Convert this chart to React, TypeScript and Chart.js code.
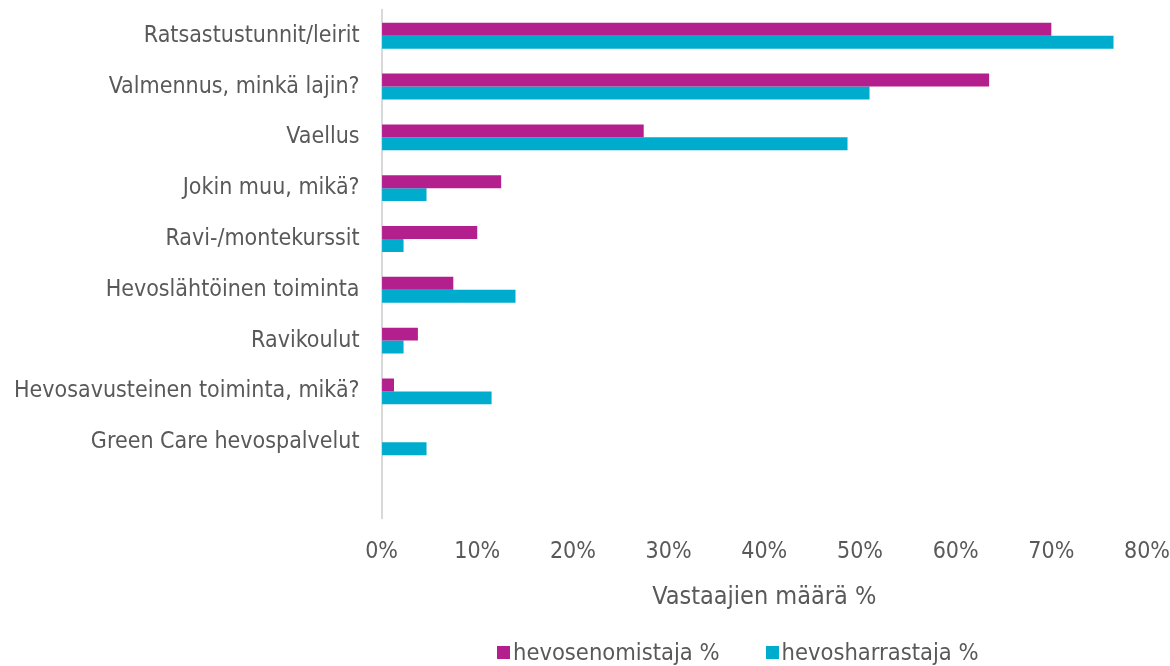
import React, { useEffect, useRef } from "react";
import { Chart, registerables } from "chart.js";

Chart.register(...registerables);

const categories = [
  "Ratsastustunnit/leirit",
  "Valmennus, minkä lajin?",
  "Vaellus",
  "Jokin muu, mikä?",
  "Ravi-/montekurssit",
  "Hevoslähtöinen toiminta",
  "Ravikoulut",
  "Hevosavusteinen toiminta, mikä?",
  "Green Care hevospalvelut",
  "",
];

const omistajaValues = [70.0, 63.5, 27.4, 12.5, 10.0, 7.5, 3.8, 1.3, 0, null];
const harrastajaValues = [76.5, 51.0, 48.7, 4.7, 2.3, 14.0, 2.3, 11.5, 4.7, null];

const seriesNames = ["hevosenomistaja %", "hevosharrastaja %"];
const seriesColors = ["#B41F8E", "#00ACCE"];
const xTicks = [0, 10, 20, 30, 40, 50, 60, 70, 80];
const axisTitle = "Vastaajien määrä %";

const FONT = "'DejaVu Sans Condensed', 'DejaVu Sans', sans-serif";
const TEXT = "#595959";

export default function App() {
  const ref = useRef<HTMLCanvasElement | null>(null);

  useEffect(() => {
    document.body.style.margin = "0";
    const ctx = ref.current;
    if (!ctx) return;
    const chart = new Chart(ctx, {
      type: "bar",
      data: {
        labels: categories,
        datasets: [
          {
            label: seriesNames[0],
            data: omistajaValues,
            backgroundColor: seriesColors[0],
            borderWidth: 0,
          },
          {
            label: seriesNames[1],
            data: harrastajaValues,
            backgroundColor: seriesColors[1],
            borderWidth: 0,
          },
        ],
      },
      options: {
        indexAxis: "y",
        animation: false,
        responsive: false,
        maintainAspectRatio: false,
        datasets: {
          bar: { categoryPercentage: 0.51, barPercentage: 1.0 },
        },
        layout: { padding: { top: 0, right: 7, bottom: 0, left: 14 } },
        scales: {
          x: {
            min: 0,
            max: 80,
            afterBuildTicks: (s: any) => {
              s.ticks = xTicks.map((v) => ({ value: v }));
            },
            ticks: {
              color: TEXT,
              font: { family: FONT, size: 23 },
              padding: 0,
              callback: (v: any) => v + "%",
            },
            grid: {
              display: true,
              drawOnChartArea: false,
              drawTicks: true,
              tickLength: 20,
              color: "rgba(0,0,0,0)",
            },
            border: { display: false },
            title: {
              display: true,
              text: axisTitle,
              color: TEXT,
              font: { family: FONT, size: 25 },
              padding: { top: 16, bottom: 54 },
            },
          },
          y: {
            ticks: {
              color: TEXT,
              font: { family: FONT, size: 23, lineHeight: 0.9 },
              padding: 0,
              autoSkip: false,
            },
            grid: {
              display: true,
              drawOnChartArea: false,
              drawTicks: true,
              tickLength: 22,
              color: "rgba(0,0,0,0)",
            },
            border: { display: true, color: "#D9D9D9", width: 2 },
          },
        },
        plugins: {
          legend: { display: false },
          tooltip: { enabled: false },
        },
      },
    });
    return () => chart.destroy();
  }, []);

  return (
    <div style={{ position: "absolute", left: 0, top: 0, width: 1170, height: 666 }}>
      <canvas ref={ref} width={1170} height={666} />
      <div
        style={{
          position: "absolute",
          left: 497,
          top: 636,
          height: 32,
          display: "flex",
          alignItems: "center",
          fontFamily: FONT,
          fontSize: 23.5,
          color: TEXT,
          whiteSpace: "nowrap",
        }}
      >
        {seriesNames.map((name, i) => (
          <div
            key={name}
            style={{ display: "flex", alignItems: "center", marginRight: i === 0 ? 46 : 0 }}
          >
            <span
              style={{
                display: "inline-block",
                width: 13,
                height: 13,
                background: seriesColors[i],
                marginRight: 3,
              }}
            />
            <span>{name}</span>
          </div>
        ))}
      </div>
    </div>
  );
}
